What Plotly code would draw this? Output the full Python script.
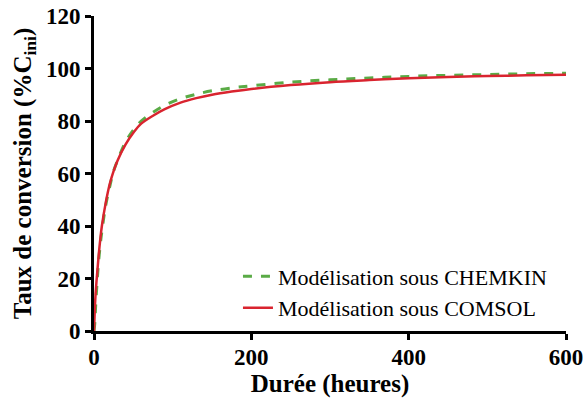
import plotly.graph_objects as go

t_comsol = [0, 1, 2, 4, 6, 8, 10, 15, 20, 25, 30, 40, 50, 60, 75, 90, 110, 130, 150, 175, 200, 250, 300, 350, 400, 450, 500, 550, 600]
y_comsol = [0, 8, 14, 22, 29, 35, 40, 49, 56, 61, 65, 71, 75.5, 79, 82, 84.5, 87, 88.7, 90, 91.2, 92.2, 93.7, 94.8, 95.6, 96.3, 96.8, 97.1, 97.4, 97.6]

t_chemkin = [0, 1, 2, 4, 6, 8, 10, 15, 20, 25, 30, 40, 50, 60, 75, 90, 110, 130, 150, 175, 200, 250, 300, 350, 400, 450, 500, 550, 600]
y_chemkin = [0, 3, 9, 19, 27, 33, 38, 48, 55, 61, 65, 72, 76.5, 80, 83.3, 86, 88.5, 90.2, 91.5, 92.6, 93.4, 94.8, 95.7, 96.4, 97, 97.4, 97.7, 98, 98.2]

x_ticks = [0, 200, 400, 600]
y_ticks = [0, 20, 40, 60, 80, 100, 120]

FONT = "Times New Roman, Liberation Serif, serif"

fig = go.Figure()
fig.add_trace(go.Scatter(x=t_chemkin, y=y_chemkin, mode="lines", name="Modélisation sous CHEMKIN",
                         line=dict(color="#5aab46", width=3, dash="dash", shape="spline"),
                         legendgroup="a", cliponaxis=False))
fig.add_trace(go.Scatter(x=t_comsol, y=y_comsol, mode="lines", name="Modélisation sous COMSOL",
                         line=dict(color="#d9242f", width=2.5, shape="spline"),
                         legendgroup="b", cliponaxis=False))

fig.update_layout(
    width=587, height=405,
    margin=dict(l=94, r=21, t=16, b=74),
    paper_bgcolor="white", plot_bgcolor="white",
    font=dict(family=FONT, color="black"),
    legend=dict(x=0.305, y=0.24, xanchor="left", yanchor="top",
                font=dict(size=22, family=FONT, color="black"),
                bgcolor="rgba(0,0,0,0)", tracegroupgap=0, traceorder="grouped"),
    xaxis=dict(range=[0, 600], tickvals=x_ticks, ticktext=[f"<b>{v}</b>" for v in x_ticks],
               showgrid=False, zeroline=False, ticklabeloverflow="allow", ticklabelstandoff=-3,
               showline=True, linecolor="black", linewidth=3, automargin=False,
               ticks="outside", ticklen=6, tickwidth=2.5, tickcolor="black",
               tickfont=dict(size=23, family=FONT, color="black"),
               title=dict(text="<b>Durée (heures)</b>", font=dict(size=25, family=FONT, color="black"),
                          standoff=4)),
    yaxis=dict(range=[0, 120], tickvals=y_ticks, ticktext=[f"<b>{v}</b>" for v in y_ticks],
               showgrid=False, zeroline=False, ticklabeloverflow="allow",
               showline=True, linecolor="black", linewidth=3, automargin=False,
               ticks="outside", ticklen=6, tickwidth=2.5, tickcolor="black",
               tickfont=dict(size=23, family=FONT, color="black"),
               title=dict(text="<b>Taux de conversion (%C<sub>ini</sub>)</b>",
                          font=dict(size=25, family=FONT, color="black"),
                          standoff=8)),
)

fig.write_html("out.html", config={"displayModeBar": False},
               post_script="document.body.style.margin='0';document.body.style.overflow='hidden';")
